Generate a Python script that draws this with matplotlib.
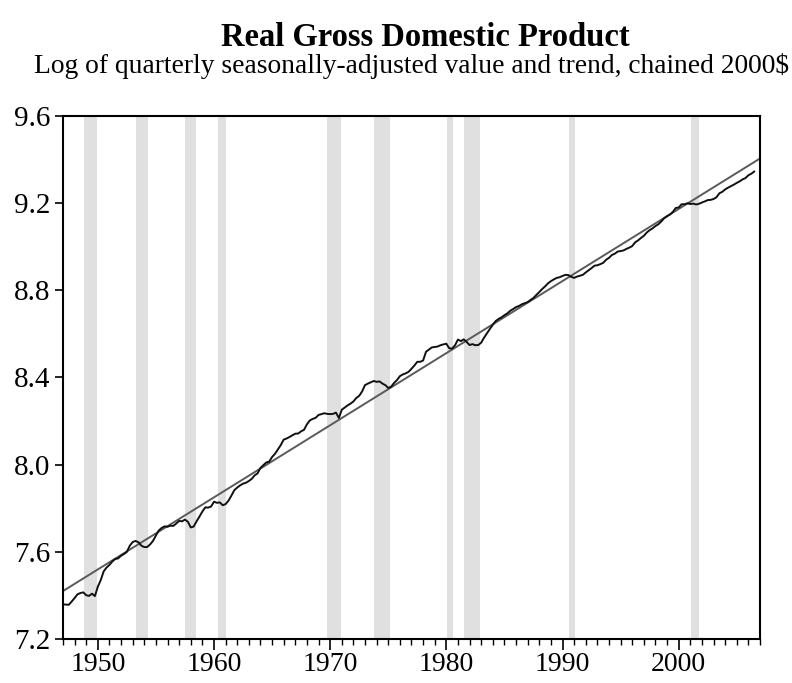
import numpy as np
import matplotlib
matplotlib.use("Agg")
import matplotlib.pyplot as plt
from matplotlib.ticker import MultipleLocator

plt.rcParams["font.family"] = ["Liberation Serif", "DejaVu Serif"]

# log real GDP, quarterly, 1947Q1 .. 2006Q3
log_gdp = [
    7.359, 7.358, 7.357, 7.372,  # 1947
    7.388, 7.405, 7.411, 7.414,  # 1948
    7.401, 7.398, 7.408, 7.397,  # 1949
    7.440, 7.470, 7.510, 7.528,  # 1950
    7.540, 7.556, 7.567, 7.570,  # 1951
    7.582, 7.590, 7.600, 7.628,  # 1952
    7.645, 7.650, 7.644, 7.628,  # 1953
    7.622, 7.622, 7.634, 7.650,  # 1954
    7.675, 7.698, 7.710, 7.717,  # 1955
    7.715, 7.720, 7.719, 7.730,  # 1956
    7.742, 7.740, 7.748, 7.738,  # 1957
    7.712, 7.716, 7.740, 7.762,  # 1958
    7.785, 7.804, 7.803, 7.808,  # 1959
    7.830, 7.825, 7.827, 7.814,  # 1960
    7.819, 7.835, 7.858, 7.883,  # 1961
    7.895, 7.905, 7.913, 7.917,  # 1962
    7.925, 7.935, 7.951, 7.960,  # 1963
    7.985, 7.998, 8.010, 8.014,  # 1964
    8.035, 8.050, 8.070, 8.090,  # 1965
    8.115, 8.120, 8.127, 8.135,  # 1966
    8.142, 8.143, 8.153, 8.160,  # 1967
    8.185, 8.203, 8.210, 8.215,  # 1968
    8.228, 8.232, 8.236, 8.233,  # 1969
    8.232, 8.233, 8.239, 8.214,  # 1970
    8.252, 8.262, 8.272, 8.280,  # 1971
    8.290, 8.306, 8.316, 8.336,  # 1972
    8.365, 8.372, 8.378, 8.384,  # 1973
    8.380, 8.382, 8.372, 8.365,  # 1974
    8.352, 8.358, 8.375, 8.388,  # 1975
    8.406, 8.414, 8.419, 8.426,  # 1976
    8.440, 8.455, 8.472, 8.472,  # 1977
    8.478, 8.518, 8.528, 8.538,  # 1978
    8.540, 8.542, 8.548, 8.552,  # 1979
    8.555, 8.534, 8.533, 8.548,  # 1980
    8.574, 8.567, 8.575, 8.563,  # 1981
    8.549, 8.553, 8.548, 8.549,  # 1982
    8.560, 8.583, 8.603, 8.623,  # 1983
    8.642, 8.659, 8.669, 8.676,  # 1984
    8.686, 8.694, 8.706, 8.714,  # 1985
    8.723, 8.728, 8.736, 8.741,  # 1986
    8.746, 8.756, 8.765, 8.779,  # 1987
    8.792, 8.806, 8.818, 8.832,  # 1988
    8.842, 8.850, 8.857, 8.860,  # 1989
    8.866, 8.871, 8.870, 8.862,  # 1990
    8.857, 8.863, 8.867, 8.871,  # 1991
    8.882, 8.892, 8.902, 8.913,  # 1992
    8.915, 8.920, 8.926, 8.940,  # 1993
    8.949, 8.962, 8.968, 8.978,  # 1994
    8.980, 8.983, 8.990, 8.996,  # 1995
    9.003, 9.020, 9.029, 9.040,  # 1996
    9.050, 9.065, 9.076, 9.084,  # 1997
    9.095, 9.103, 9.116, 9.131,  # 1998
    9.140, 9.148, 9.160, 9.178,  # 1999
    9.180, 9.195, 9.195, 9.199,  # 2000
    9.196, 9.198, 9.194, 9.197,  # 2001
    9.203, 9.208, 9.214, 9.215,  # 2002
    9.219, 9.227, 9.245, 9.252,  # 2003
    9.263, 9.271, 9.278, 9.285,  # 2004
    9.293, 9.300, 9.309, 9.315,  # 2005
    9.328, 9.335, 9.345,         # 2006
]
start_year = 1947

# linear trend, value at both ends of the axis
trend_years = [1947, 2007]
trend_vals = [7.42, 9.405]

# NBER recessions (shaded), decimal years
rec_start = [1948.83, 1953.27, 1957.53, 1960.35, 1969.70, 1973.78, 1980.03, 1981.52, 1990.56, 2001.06]
rec_end = [1949.90, 1954.30, 1958.45, 1961.07, 1970.90, 1975.16, 1980.60, 1982.88, 1991.10, 2001.78]

t = start_year + np.arange(len(log_gdp)) / 4.0

fig = plt.figure(figsize=(7.92, 6.83), dpi=100)
ax = fig.add_axes([0.0795, 0.0644, 0.8801, 0.7658])

for a, b in zip(rec_start, rec_end):
    ax.axvspan(a, b, color="#e0e0e0", lw=0, zorder=0)

ax.plot(trend_years, trend_vals, color="#5a5a5a", lw=1.4, zorder=2)
ax.plot(t, log_gdp, color="#111111", lw=1.4, zorder=3)

ax.set_xlim(1947, 2007)
ax.set_ylim(7.2, 9.6)
ax.yaxis.set_major_locator(MultipleLocator(0.4))
ax.yaxis.set_major_formatter(plt.FuncFormatter(lambda v, p: f"{v:.1f}"))
ax.xaxis.set_major_locator(MultipleLocator(10))
ax.xaxis.set_minor_locator(MultipleLocator(1))

for s in ax.spines.values():
    s.set_linewidth(1.5)
ax.tick_params(axis="y", direction="out", length=6, width=1.2, labelsize=21, pad=3)
ax.tick_params(axis="x", which="major", direction="out", length=8, width=1.2, labelsize=20, pad=1)
ax.tick_params(axis="x", which="minor", direction="out", length=4.5, width=1.0)

fig.text(0.537, 0.932, "Real Gross Domestic Product", ha="center", va="baseline",
         fontsize=23.5, fontweight="bold")
fig.text(0.52, 0.893, "Log of quarterly seasonally-adjusted value and trend, chained 2000$",
         ha="center", va="baseline", fontsize=19.8)

fig.savefig("out.png", dpi=100)
